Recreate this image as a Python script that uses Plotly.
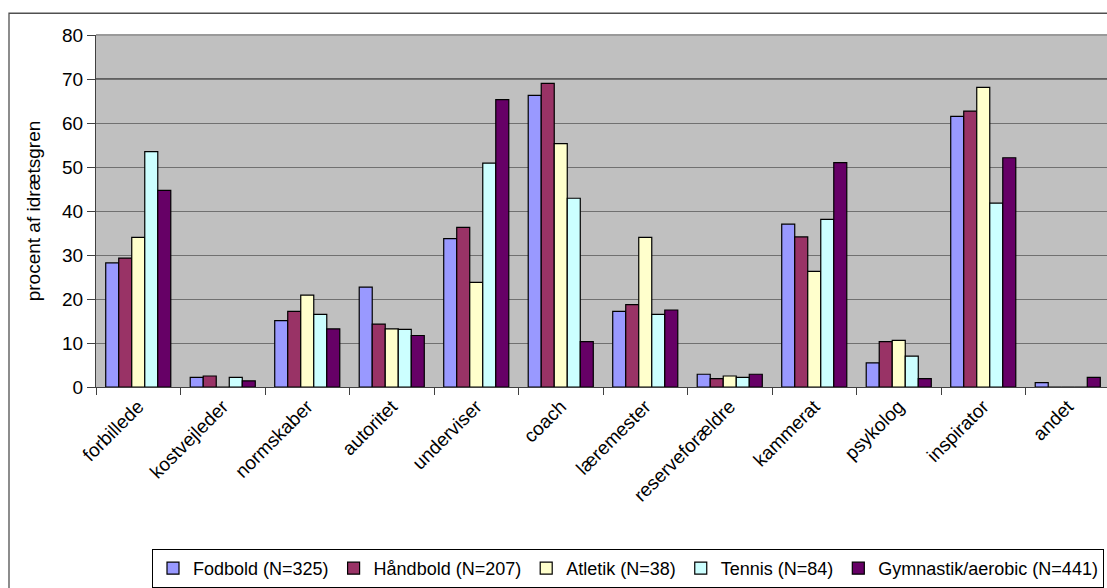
import plotly.graph_objects as go

categories = ["forbillede", "kostvejleder", "normskaber", "autoritet", "underviser", "coach",
              "læremester", "reserveforældre", "kammerat", "psykolog", "inspirator", "andet"]

fodbold = [28.2, 2.2, 15.1, 22.7, 33.7, 66.3, 17.2, 2.9, 37.0, 5.5, 61.5, 1.0]
haandbold = [29.3, 2.5, 17.2, 14.3, 36.3, 69.0, 18.7, 1.9, 34.1, 10.3, 62.7, 0]
atletik = [34.0, 0, 20.9, 13.2, 23.8, 55.3, 34.0, 2.5, 26.3, 10.6, 68.1, 0]
tennis = [53.5, 2.2, 16.5, 13.1, 50.9, 42.9, 16.5, 2.2, 38.1, 7.0, 41.8, 0]
gymnastik = [44.7, 1.4, 13.2, 11.7, 65.3, 10.3, 17.5, 2.9, 51.0, 1.9, 52.1, 2.2]

series_names = ["Fodbold (N=325)", "Håndbold (N=207)", "Atletik (N=38)", "Tennis (N=84)",
                "Gymnastik/aerobic (N=441)"]
series_values = [fodbold, haandbold, atletik, tennis, gymnastik]
colors = ["#9999FF", "#993366", "#FFFFCC", "#CCFFFF", "#660066"]

FONT = "Liberation Sans, Arial, sans-serif"

fig = go.Figure()
for name, vals, col in zip(series_names, series_values, colors):
    fig.add_trace(go.Bar(
        x=categories, y=vals, name=name,
        marker=dict(color=col, line=dict(color="black", width=1.2)),
    ))

W, H = 1107, 588
left, top, bottom = 96, 35, 197
plot_w = W - left
cat_w = 84.5

fig.update_layout(
    width=W, height=H,
    margin=dict(l=left, r=0, t=top, b=bottom, pad=0),
    paper_bgcolor="white",
    plot_bgcolor="#C0C0C0",
    barmode="group",
    bargap=0.23,
    bargroupgap=0,
    font=dict(family=FONT, size=18, color="black"),
    showlegend=True,
    legend=dict(
        orientation="h",
        x=(152 - left) / plot_w, xanchor="left",
        y=(391 - 555) / 356, yanchor="top",
        bgcolor="white", bordercolor="black", borderwidth=1,
        font=dict(family=FONT, size=18, color="black"),
        itemwidth=30,
        traceorder="normal",
    ),
    xaxis=dict(
        range=[-0.5, -0.5 + plot_w / cat_w],
        tickangle=-45,
        tickson="boundaries",
        ticks="outside", ticklen=7, tickcolor="#404040",
        showline=True, linecolor="#404040", linewidth=1,
        showgrid=False,
        tickfont=dict(family=FONT, size=19),
    ),
    yaxis=dict(
        range=[0, 80], dtick=10,
        ticks="outside", ticklen=8, tickcolor="#404040",
        showline=True, linecolor="#404040", linewidth=1,
        gridcolor="#707070", gridwidth=1,
        zeroline=False,
        tickfont=dict(family=FONT, size=19),
        title=dict(text="procent af idrætsgren", font=dict(family=FONT, size=19), standoff=16),
    ),
    shapes=[
        # plot-area top border
        dict(type="line", xref="paper", yref="paper", x0=0, x1=1, y0=1, y1=1,
             line=dict(color="#9a9a9a", width=2)),
        # darker 70 gridline as in reference
        dict(type="line", xref="paper", yref="y", x0=0, x1=1, y0=70, y1=70,
             line=dict(color="black", width=1), layer="below"),
        # outer chart frame
        dict(type="rect", xref="paper", yref="paper",
             x0=(9 - left) / plot_w, x1=1.05,
             y0=-0.7, y1=(391 - 13) / 356,
             line=dict(color="#505050", width=1.3), layer="below"),
    ],
)

fig.write_html("out.html")
